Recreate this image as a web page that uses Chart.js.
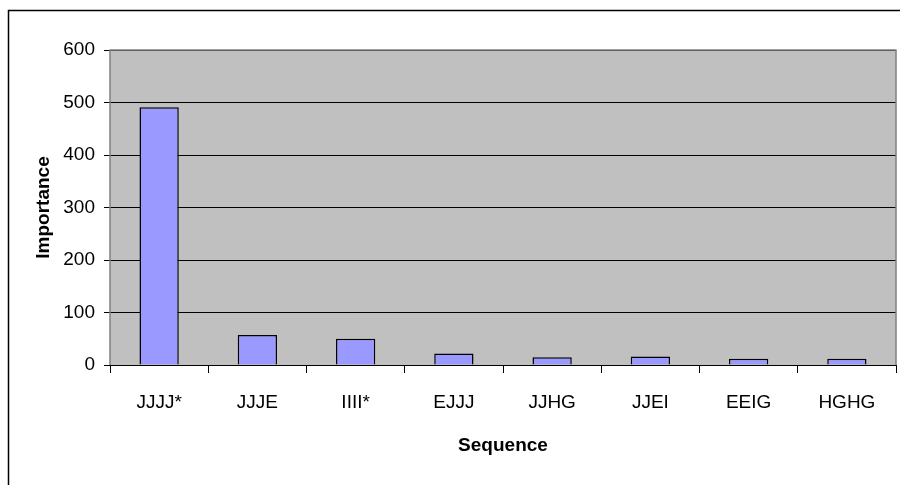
<!DOCTYPE html>
<html><head><meta charset="utf-8">
<script src="https://cdn.jsdelivr.net/npm/chart.js@4"></script>
<style>html,body{margin:0;padding:0;background:#fff}#wrap{width:900px;height:485px;position:relative}</style>
</head><body><div id="wrap"><canvas id="c" width="900" height="485"></canvas></div>
<script>
const categories = ["JJJJ*","JJJE","IIII*","EJJJ","JJHG","JJEI","EEIG","HGHG"];
const importance = [491, 57, 50, 22, 15, 16, 12, 12];
const yTicks = [0,100,200,300,400,500,600];

const FONT = "'Liberation Sans', Arial, sans-serif";
const decor = {
  id:'decor',
  beforeDraw(chart){
    const {ctx, chartArea:a} = chart;
    ctx.save();
    ctx.fillStyle='#fff'; ctx.fillRect(0,0,chart.width,chart.height);
    ctx.strokeStyle='#000'; ctx.lineWidth=1.5;
    ctx.beginPath(); ctx.moveTo(8.5,chart.height); ctx.lineTo(8.5,10.5); ctx.lineTo(chart.width,10.5); ctx.stroke();
    ctx.fillStyle='#C0C0C0'; ctx.fillRect(a.left,a.top,a.right-a.left,a.bottom-a.top);
    ctx.restore();
  },
  afterDatasetsDraw(chart){
    const {ctx, chartArea:a} = chart;
    ctx.save(); ctx.strokeStyle='#808080'; ctx.lineWidth=1.5;
    ctx.beginPath(); ctx.moveTo(a.left,a.bottom); ctx.lineTo(a.left,a.top); ctx.lineTo(a.right,a.top); ctx.lineTo(a.right,a.bottom); ctx.stroke();
    ctx.strokeStyle='#000'; ctx.lineWidth=1;
    ctx.beginPath(); ctx.moveTo(a.left,a.bottom+0.5); ctx.lineTo(a.right,a.bottom+0.5); ctx.stroke();
    ctx.restore();
  }
};

new Chart(document.getElementById('c'), {
  type:'bar',
  data:{labels:categories, datasets:[{data:importance, backgroundColor:'#9999FF', borderColor:'#000', borderWidth:1.5, barPercentage:0.4, categoryPercentage:1.0}]},
  plugins:[decor],
  options:{
    responsive:false, animation:false, devicePixelRatio:1,
    layout:{padding:{left:8, top:50, right:4, bottom:0}},
    plugins:{legend:{display:false}, tooltip:{enabled:false}},
    scales:{
      x:{
        afterFit(s){ s.height = 120; },
        grid:{drawOnChartArea:false, offset:true, tickLength:8, color:'#000'},
        border:{display:false},
        ticks:{color:'#000', font:{family:FONT, size:19}, padding:18, autoSkip:false, maxRotation:0},
        title:{display:true, text:'Sequence', color:'#000', font:{family:FONT, size:19, weight:'bold'}, padding:{top:0,bottom:28}}
      },
      y:{
        min:0, max:600,
        afterBuildTicks(s){ s.ticks = yTicks.map(v=>({value:v})); },
        afterFit(s){ s.width = 102; },
        grid:{color:'#000', lineWidth:1, tickLength:6},
        border:{display:false},
        ticks:{color:'#000', font:{family:FONT, size:19}, padding:9},
        title:{display:true, text:'Importance', color:'#000', font:{family:FONT, size:19, weight:'bold'}, padding:{top:24,bottom:0}}
      }
    }
  }
});
</script></body></html>
